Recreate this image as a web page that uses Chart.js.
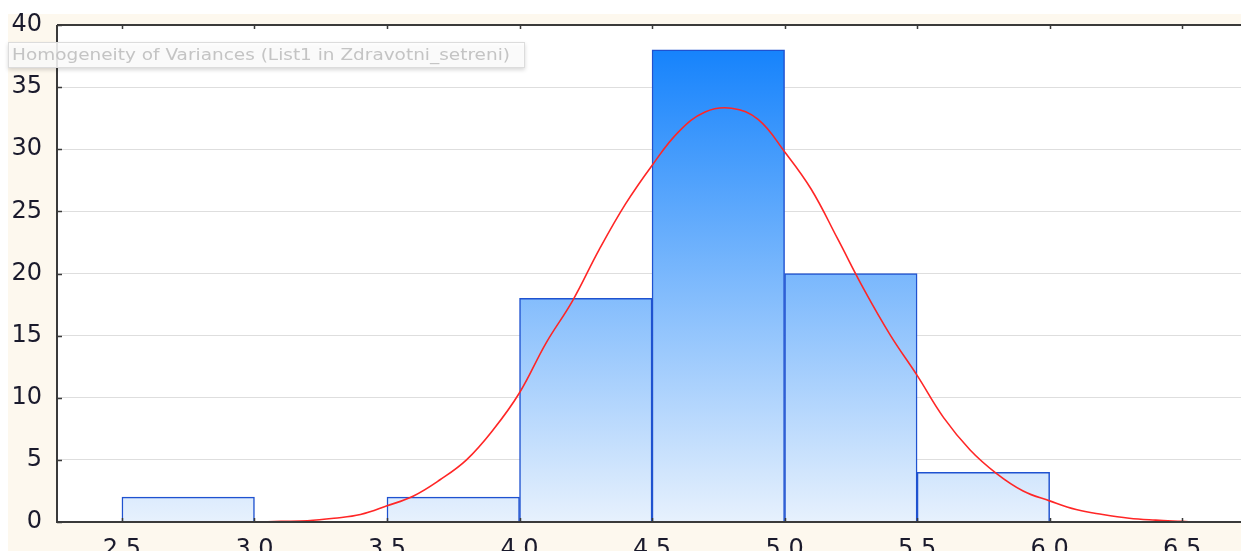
<!DOCTYPE html>
<html>
<head>
<meta charset="utf-8">
<script src="https://cdn.jsdelivr.net/npm/chart.js@4"></script>
<style>
  html, body { margin: 0; padding: 0; background: #ffffff; }
  #wrap { width: 1241px; height: 551px; position: relative; }
</style>
</head>
<body>
<div id="wrap"><canvas id="canvas" width="1241" height="551"></canvas></div>
<script>
const canvas = document.getElementById("canvas");

// histogram bins (centers) and counts
const binCenters = [2.75, 3.25, 3.75, 4.25, 4.75, 5.25, 5.75];
const binCounts = [2, 0, 2, 18, 38, 20, 4];

// fitted normal curve
const curveX = [3.0, 3.1, 3.2, 3.3, 3.4, 3.5, 3.6, 3.7, 3.8, 3.9, 4.0, 4.1, 4.2, 4.3, 4.4, 4.5, 4.6, 4.7, 4.8, 4.9, 5.0, 5.1, 5.2, 5.3, 5.4, 5.5, 5.6, 5.7, 5.8, 5.9, 6.0, 6.1, 6.2, 6.3, 6.4, 6.5, 6.55];
const curveY = [0.0, 0.05, 0.1, 0.3, 0.6, 1.3, 2.1, 3.4, 5.0, 7.4, 10.4, 14.4, 17.8, 21.9, 25.6, 28.7, 31.4, 33.0, 33.3, 32.4, 29.8, 26.8, 22.8, 18.7, 15.0, 11.8, 8.4, 5.8, 3.9, 2.5, 1.7, 1.0, 0.6, 0.3, 0.15, 0.05, 0.0];

const xTicks = [2.5, 3.0, 3.5, 4.0, 4.5, 5.0, 5.5, 6.0, 6.5];
const yTicks = [0, 5, 10, 15, 20, 25, 30, 35, 40];
const overlayText = "Homogeneity of Variances (List1 in Zdravotni_setreni)";

const LabelFont = { family: "DejaVu Sans", size: 24 };
const LabelColor = "#1a1a2c";
const AxisColor = "#3a3a3a";

function barGradient(context) {
  const chart = context.chart;
  const { chartArea, scales } = chart;
  if (!chartArea) return "#7fb9f9";
  const top = scales.y.getPixelForValue(38);
  const bottom = scales.y.getPixelForValue(0);
  const g = chart.ctx.createLinearGradient(0, top, 0, bottom);
  g.addColorStop(0, "#1683fc");
  g.addColorStop(1, "#e7f1fd");
  return g;
}

const backgroundPlugin = {
  id: "background",
  beforeDraw(chart) {
    const { ctx, chartArea } = chart;
    ctx.save();
    ctx.fillStyle = "#ffffff";
    ctx.fillRect(0, 0, chart.width, chart.height);
    ctx.fillStyle = "#fdf8ee";
    ctx.fillRect(8, 14, chart.width - 8, chart.height - 14);
    ctx.fillStyle = "#ffffff";
    ctx.fillRect(chartArea.left, chartArea.top, chartArea.right - chartArea.left, chartArea.bottom - chartArea.top);
    ctx.restore();
  },
};

const axesPlugin = {
  id: "axesFrame",
  afterDatasetsDraw(chart) {
    const { ctx, chartArea, scales } = chart;
    ctx.save();
    ctx.strokeStyle = AxisColor;
    ctx.lineWidth = 2;
    ctx.beginPath();
    ctx.moveTo(chartArea.left, chartArea.top);
    ctx.lineTo(chartArea.right, chartArea.top);
    ctx.moveTo(chartArea.left, chartArea.top);
    ctx.lineTo(chartArea.left, chartArea.bottom);
    ctx.lineTo(chartArea.right, chartArea.bottom);
    ctx.stroke();

    // inward tick marks
    ctx.lineWidth = 1.5;
    ctx.beginPath();
    xTicks.forEach((v) => {
      const x = Math.round(scales.x.getPixelForValue(v)) + 0.5;
      ctx.moveTo(x, chartArea.bottom);
      ctx.lineTo(x, chartArea.bottom - 4);
      ctx.moveTo(x, chartArea.top);
      ctx.lineTo(x, chartArea.top + 4);
    });
    yTicks.forEach((v) => {
      const y = Math.round(scales.y.getPixelForValue(v)) + 0.5;
      ctx.moveTo(chartArea.left, y);
      ctx.lineTo(chartArea.left + 5, y);
    });
    ctx.stroke();
    ctx.restore();
  },
  afterDraw(chart) {
    // faded hover-label box over the top left
    const ctx = chart.ctx;
    ctx.save();
    ctx.shadowColor = "rgba(0,0,0,0.18)";
    ctx.shadowBlur = 4;
    ctx.shadowOffsetY = 2;
    ctx.fillStyle = "rgba(255,255,255,0.86)";
    ctx.fillRect(8, 42, 517, 26);
    ctx.shadowColor = "transparent";
    ctx.strokeStyle = "#dcdcdc";
    ctx.lineWidth = 1;
    ctx.strokeRect(8.5, 42.5, 516, 25);
    ctx.font = "15px 'DejaVu Sans'";
    ctx.fillStyle = "#c4c4c4";
    ctx.textBaseline = "middle";
    const w = ctx.measureText(overlayText).width;
    ctx.translate(12, 56);
    ctx.scale(498 / w, 1);
    ctx.fillText(overlayText, 0, 0);
    ctx.restore();
  },
};

new Chart(canvas, {
  type: "bar",
  data: {
    datasets: [
      {
        type: "line",
        data: curveX.map((x, i) => ({ x: x, y: curveY[i] })),
        borderColor: "#ff2626",
        borderWidth: 1.6,
        pointRadius: 0,
        tension: 0.4,
        fill: false,
        order: 0,
      },
      {
        type: "bar",
        data: binCenters.map((x, i) => ({ x: x, y: binCounts[i] })),
        backgroundColor: barGradient,
        borderColor: "#1f52d0",
        borderWidth: (c) => (c.raw && c.raw.y === 0 ? 0 : 1.5),
        borderSkipped: "bottom",
        barPercentage: 1.0,
        categoryPercentage: 1.0,
        order: 1,
      },
    ],
  },
  options: {
    responsive: false,
    animation: false,
    maintainAspectRatio: false,
    layout: { padding: 0 },
    plugins: {
      legend: { display: false },
      tooltip: { enabled: false },
    },
    scales: {
      x: {
        type: "linear",
        offset: false,
        min: 2.255,
        max: 6.722,
        afterBuildTicks: (scale) => {
          scale.ticks = xTicks.map((v) => ({ value: v }));
        },
        afterFit: (scale) => {
          scale.height = 29;
          scale.paddingLeft = 0;
          scale.paddingRight = 0;
        },
        grid: { display: false, drawTicks: false, offset: false },
        border: { display: false },
        ticks: {
          padding: 13,
          autoSkip: false,
          maxRotation: 0,
          font: LabelFont,
          color: LabelColor,
          callback: (v) => Number(v).toFixed(1),
        },
      },
      y: {
        min: 0,
        max: 40,
        afterBuildTicks: (scale) => {
          scale.ticks = yTicks.map((v) => ({ value: v }));
        },
        afterFit: (scale) => {
          scale.width = 57;
          scale.paddingTop = 25;
          scale.paddingBottom = 0;
        },
        grid: { color: "#dedede", lineWidth: 1, drawTicks: false },
        border: { display: false },
        ticks: {
          padding: 15,
          font: LabelFont,
          color: LabelColor,
        },
      },
    },
  },
  plugins: [backgroundPlugin, axesPlugin],
});
</script>
</body>
</html>
